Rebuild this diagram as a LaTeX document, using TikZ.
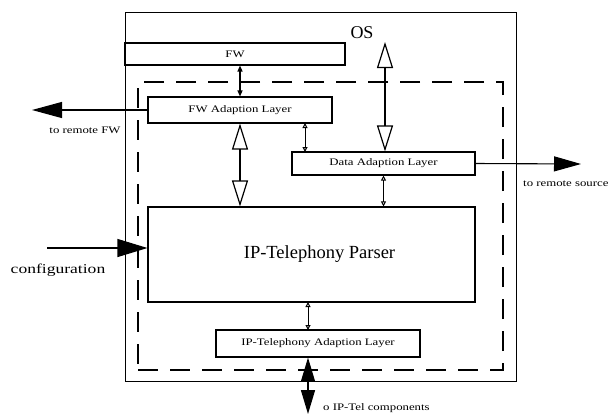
\documentclass[tikz,border=0pt]{standalone}
\usepackage{fontspec}
\setmainfont{Liberation Serif}
\newfontfamily\lblfont[FakeStretch=1.28]{Liberation Serif}
\newfontfamily\cfgfont[FakeStretch=1.3]{Liberation Serif}
\usetikzlibrary{arrows.meta}
\begin{document}
\begin{tikzpicture}[x=1pt,y=-1pt,
  box/.style={draw, line width=1.1pt, inner sep=0pt, font=\lblfont\fontsize{10}{12}\selectfont},
  lbl/.style={inner sep=0pt, font=\lblfont\fontsize{10}{12}\selectfont},
  smalldbl/.style={line width=1pt, {Triangle[open,length=5pt,width=5pt]}-{Triangle[open,length=5pt,width=5pt]}},
  smallfilled/.style={line width=1.2pt, {Triangle[length=6pt,width=5pt]}-{Triangle[length=6pt,width=5pt]}},
  hollowdbl/.style={line width=1.2pt, {Triangle[open,length=26pt,width=16pt]}-{Triangle[open,length=26pt,width=16pt]}},
  filleddbl/.style={line width=1.5pt, {Triangle[length=24pt,width=14pt]}-{Triangle[length=24pt,width=14pt]}},
  bigarrow/.style={line width=1.1pt, -{Triangle[length=30pt,width=16pt]}}
]
\useasboundingbox (0,0) rectangle (612,416);
% outer OS box
\node (os) [draw, line width=0.9pt, minimum width=391pt, minimum height=369pt, inner sep=0pt] at (320.5,196.5) {};
\node (oslabel) [inner sep=0pt, font=\fontsize{18}{20}\selectfont] at (362,33) {OS};
% FW
\node (fw) [box, minimum width=220pt, minimum height=22pt] at (235,54) {FW};
% dashed box
\node (dash) [draw, line width=1.5pt, dash pattern=on 20pt off 12pt, minimum width=365pt, minimum height=288pt, inner sep=0pt] at (320.5,226) {};
% inner boxes
\node (fwad) [box, minimum width=184pt, minimum height=26pt] at (240,110) {FW Adaption Layer};
\node (data) [box, minimum width=183pt, minimum height=23pt] at (383.5,163.5) {Data Adaption Layer};
\node (parser) [box, minimum width=327pt, minimum height=95pt, font=\fontsize{18.5}{20}\selectfont] at (311.5,254.5) {\hspace*{16pt}IP-Telephony Parser};
\node (iptad) [box, minimum width=204pt, minimum height=27pt] at (318,343.5) {IP-Telephony Adaption Layer};
% free ends
\coordinate (ostop) at (385,42);
\coordinate (rfw) at (32,110);
\coordinate (rsrc) at (581,164);
\coordinate (cfg) at (47,248);
\coordinate (iptc) at (308,414);
% connectors
\draw[smallfilled] (fwad.north |- fw.south) -- (fwad.north);
\draw[hollowdbl] (fwad.south) -- (fwad.south |- parser.north);
\draw[hollowdbl] (ostop) -- (ostop |- data.north);
\draw[smalldbl] (305,123) -- (305,152);
\draw[smalldbl] (data.south) -- (data.south |- parser.north);
\draw[smalldbl] (308,302) -- (308,330);
\draw[filleddbl] (iptad.south -| iptc) -- (iptc);
\draw[bigarrow] (fwad.west) -- (rfw);
\draw[bigarrow, -{Triangle[length=27pt,width=15pt]}] (data.east) -- (rsrc);
\draw[bigarrow, -{Triangle[length=30pt,width=18pt]}] (cfg) -- (cfg -| parser.west);
% labels
\node (lrfw) [lbl] at (85,130) {to remote FW};
\node (lrsrc) [lbl, anchor=west] at (523,184) {to remote source};
\node (lcfg) [inner sep=0pt, font=\cfgfont\fontsize{13.5}{15}\selectfont] at (58,270) {configuration};
\node (lipt) [lbl, anchor=west] at (323,408) {o IP-Tel components};
\end{tikzpicture}
\end{document}
